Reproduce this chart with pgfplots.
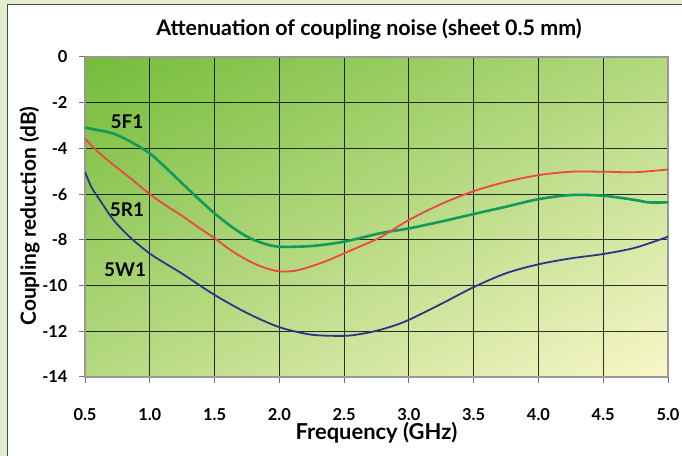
\documentclass[border=0pt]{standalone}
\usepackage{fontspec}
\setmainfont{Lato}
\usepackage{pgfplots}
\pgfplotsset{compat=1.18}
\definecolor{cgreen}{HTML}{119A59}
\definecolor{cred}{HTML}{F04545}
\definecolor{cblue}{HTML}{2B3589}
\definecolor{frame}{HTML}{E3EFCC}
\definecolor{gtop}{HTML}{74BC3A}
\definecolor{gmid}{HTML}{B4D980}
\definecolor{gbot}{HTML}{F9F7C9}
\pgfdeclareverticalshading{plotbg}{100bp}{color(0bp)=(gbot); color(16bp)=(gbot); color(50bp)=(gmid); color(84bp)=(gtop); color(100bp)=(gtop)}
\begin{document}
\begin{tikzpicture}[x=1bp,y=1bp]
\useasboundingbox (0,0) rectangle (682,456);
\fill[frame] (0,0) rectangle (682,456);
\fill[white] (7,0) rectangle (682,452);
\draw[black!70,line width=0.8bp] (7,0) -- (7,452) -- (682,452);
\node[font=\bfseries\fontsize{21.5}{25}\selectfont, anchor=base] at (369,420) {Attenuation of coupling noise (sheet 0.5 mm)};
\begin{axis}[
  at={(85bp,79bp)}, anchor=south west,
  scale only axis, width=583bp, height=320bp,
  xmin=0.5, xmax=5.0, ymin=-14, ymax=0,
  xtick={0.5,1.0,1.5,2.0,2.5,3.0,3.5,4.0,4.5},
  extra x ticks={5.0},
  ytick={-14,-12,-10,-8,-6,-4,-2},
  extra y ticks={0},
  extra tick style={grid=none},
  grid=major,
  major grid style={black, line width=0.9bp, opacity=0.8},
  axis line style={black!40, line width=1.5bp},
  tick pos=left, tick align=outside,
  major tick length=6bp,
  tick style={black!55, line width=1bp},
  /pgf/number format/assume math mode=true,
  xticklabel style={font=\bfseries\fontsize{16.5}{19}\selectfont, yshift=-22bp,
    /pgf/number format/.cd, fixed, fixed zerofill, precision=1},
  yticklabel style={font=\bfseries\fontsize{16.5}{19}\selectfont, xshift=-8bp},
  xlabel={Frequency (GHz)},
  ylabel={Coupling reduction (dB)},
  xlabel style={font=\bfseries\fontsize{22}{26}\selectfont, at={(axis description cs:0.5,-0.175)}, anchor=center},
  ylabel style={font=\bfseries\fontsize{21}{25}\selectfont, at={(axis description cs:-0.095,0.503)}, anchor=center, rotate=0},
  axis background/.style={shade, shading=plotbg, shading angle=28},
]
\addplot[cgreen, line width=2.6bp, smooth] coordinates {
(0.5,-3.09) (0.6,-3.2) (0.72,-3.35) (0.85,-3.7) (1.0,-4.22) (1.125,-4.85) (1.25,-5.53) (1.375,-6.2) (1.5,-6.84) (1.625,-7.4) (1.75,-7.86) (1.875,-8.15) (2.0,-8.3) (2.25,-8.27) (2.5,-8.08) (2.78,-7.71) (3.0,-7.5) (3.25,-7.2) (3.5,-6.87) (3.75,-6.55) (4.0,-6.22) (4.25,-6.04) (4.5,-6.07) (4.75,-6.26) (4.85,-6.36) (5.0,-6.36)
};
\addplot[cred, line width=1.8bp, smooth] coordinates {
(0.5,-3.57) (0.6,-4.15) (0.72,-4.72) (0.85,-5.3) (1.0,-6.0) (1.125,-6.5) (1.25,-6.95) (1.375,-7.45) (1.5,-7.93) (1.625,-8.45) (1.75,-8.88) (1.875,-9.2) (2.0,-9.38) (2.125,-9.35) (2.25,-9.15) (2.375,-8.9) (2.5,-8.59) (2.65,-8.22) (2.78,-7.89) (3.0,-7.13) (3.25,-6.43) (3.5,-5.87) (3.75,-5.46) (4.0,-5.17) (4.25,-5.02) (4.5,-5.02) (4.75,-5.04) (5.0,-4.92)
};
\addplot[cblue, line width=1.8bp, smooth] coordinates {
(0.5,-5.02) (0.55,-5.7) (0.615,-6.26) (0.72,-7.13) (0.85,-7.9) (1.0,-8.6) (1.125,-9.05) (1.25,-9.48) (1.5,-10.41) (1.75,-11.2) (2.0,-11.82) (2.25,-12.15) (2.5,-12.2) (2.625,-12.12) (2.75,-11.98) (2.875,-11.77) (3.0,-11.5) (3.25,-10.8) (3.5,-10.07) (3.75,-9.46) (4.0,-9.07) (4.25,-8.81) (4.5,-8.62) (4.75,-8.34) (5.0,-7.86)
};
\node[font=\bfseries\fontsize{19}{23}\selectfont] at (axis cs:0.824,-2.84) {5F1};
\node[font=\bfseries\fontsize{19}{23}\selectfont] at (axis cs:0.824,-6.69) {5R1};
\node[font=\bfseries\fontsize{19}{23}\selectfont] at (axis cs:0.81,-9.32) {5W1};
\end{axis}
\end{tikzpicture}
\end{document}
